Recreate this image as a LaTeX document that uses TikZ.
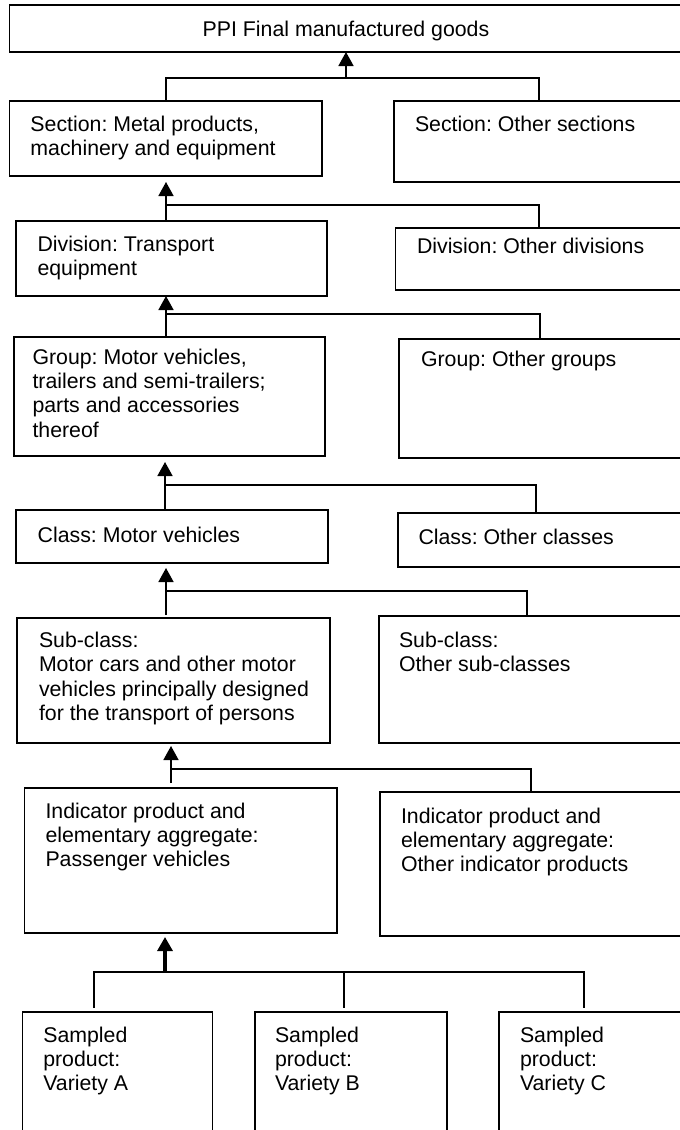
\documentclass[tikz,border=0pt]{standalone}
\usepackage{fontspec}
\setmainfont{Liberation Sans}
\usetikzlibrary{arrows.meta,fit}
\frenchspacing
\newcommand{\mylines}[1]{\begin{tabular}[t]{@{}l@{}}#1\end{tabular}}
\begin{document}
\begin{tikzpicture}[x=1pt,y=-1pt,
  box/.style={draw, line width=1.8pt, inner sep=0pt, outer sep=0pt},
  txt/.style={inner sep=0pt, outer sep=0pt, anchor=base west, font=\fontsize{21.3}{24.4}\selectfont\frenchspacing},
  link/.style={line width=1.6pt},
  uparrow/.style={line width=1.6pt, -{Triangle[width=15pt,length=14pt]}},
]
\useasboundingbox (0,0) rectangle (680,1130);

% boxes
\node[box, fit={(9.5,5) (684,52)}] (top) {};
\node[box, fit={(9.5,101) (322,176)}] (secL) {};
\node[box, fit={(394,101) (684,182)}] (secR) {};
\node[box, fit={(16,221) (327,296)}] (divL) {};
\node[box, fit={(395.5,228) (684,290)}] (divR) {};
\node[box, fit={(14,337) (325,456)}] (grpL) {};
\node[box, fit={(399,339) (684,458)}] (grpR) {};
\node[box, fit={(16,510) (328,563)}] (clsL) {};
\node[box, fit={(398,513) (684,567)}] (clsR) {};
\node[box, fit={(17,618) (330,743)}] (subL) {};
\node[box, fit={(379,616) (684,743)}] (subR) {};
\node[box, fit={(24.5,788) (337,933)}] (indL) {};
\node[box, fit={(380,792) (684,936)}] (indR) {};
\node[box, fit={(22.5,1012) (212.5,1134)}] (smpA) {};
\node[box, fit={(255,1012) (447,1134)}] (smpB) {};
\node[box, fit={(499,1012) (684,1134)}] (smpC) {};

% texts
\node[txt, anchor=base] (topT) at (346,36.5) {PPI Final manufactured goods};
\node[txt] (secLT) at (30.5,131.5) {\mylines{Section: Metal products,\\machinery and equipment}};
\node[txt] (secRT) at (415,131.5) {\mylines{Section: Other sections}};
\node[txt] (divLT) at (37.5,251) {\mylines{Division: Transport\\equipment}};
\node[txt] (divRT) at (417,253) {\mylines{Division: Other divisions}};
\node[txt] (grpLT) at (32.5,364) {\mylines{Group: Motor vehicles,\\trailers and semi-trailers;\\parts and accessories\\thereof}};
\node[txt] (grpRT) at (421,366) {\mylines{Group: Other groups}};
\node[txt] (clsLT) at (37.7,542) {\mylines{Class: Motor vehicles}};
\node[txt] (clsRT) at (418.5,544) {\mylines{Class: Other classes}};
\node[txt] (subLT) at (39,647.5) {\mylines{Sub-class:\\Motor cars and other motor\\vehicles principally designed\\for the transport of persons}};
\node[txt] (subRT) at (399,647) {\mylines{Sub-class:\\Other sub-classes}};
\node[txt] (indLT) at (45.5,818) {\mylines{Indicator product and\\elementary aggregate:\\Passenger vehicles}};
\node[txt] (indRT) at (401,823) {\mylines{Indicator product and\\elementary aggregate:\\Other indicator products}};
\node[txt] (smpAT) at (43.3,1042) {\mylines{Sampled\\product:\\Variety A}};
\node[txt] (smpBT) at (275,1042) {\mylines{Sampled\\product:\\Variety B}};
\node[txt] (smpCT) at (520,1042) {\mylines{Sampled\\product:\\Variety C}};

% level 1
\coordinate (j1) at (346,78);
\coordinate (j1l) at (166,78);
\coordinate (j1r) at (539,78);
\draw[link] (j1l |- secL.north) -- (j1l) -- (j1r) -- (j1r |- secR.north);
\draw[uparrow] (j1) -- (j1 |- top.south);

% level 2
\coordinate (j2) at (166,205);
\coordinate (j2r) at (539,205);
\draw[link] (j2 |- divL.north) -- (j2) -- (j2r) -- (j2r |- divR.north);
\draw[uparrow, shorten >=6pt] (j2) -- (j2 |- secL.south);

% level 3
\coordinate (j3) at (166,314);
\coordinate (j3r) at (540,314);
\draw[link] (j3 |- grpL.north) -- (j3) -- (j3r) -- (j3r |- grpR.north);
\draw[uparrow] (j3) -- (j3 |- divL.south);

% level 4
\coordinate (j4) at (165,485);
\coordinate (j4r) at (536,485);
\draw[link] (j4 |- clsL.north) -- (j4) -- (j4r) -- (j4r |- clsR.north);
\draw[uparrow, shorten >=6pt] (j4) -- (j4 |- grpL.south);

% level 5
\coordinate (j5) at (166,591);
\coordinate (j5r) at (527,591);
\draw[link, shorten <=3pt] (j5 |- subL.north) -- (j5) -- (j5r) -- (j5r |- subR.north);
\draw[uparrow, shorten >=5pt] (j5) -- (j5 |- clsL.south);

% level 6
\coordinate (j6) at (171,769);
\coordinate (j6r) at (531,769);
\draw[link, shorten <=5pt] (j6 |- indL.north) -- (j6) -- (j6r) -- (j6r |- indR.north);
\draw[uparrow, shorten >=3pt] (j6) -- (j6 |- subL.south);

% level 7
\coordinate (j7) at (165,972);
\coordinate (j7a) at (94,972);
\coordinate (j7b) at (344,972);
\coordinate (j7c) at (584,972);
\draw[link, shorten <=4pt, shorten >=4pt] (j7a |- smpA.north) -- (j7a) -- (j7c) -- (j7c |- smpC.north);
\draw[link, shorten >=4pt] (j7b) -- (j7b |- smpB.north);
\draw[uparrow, line width=3.2pt, shorten >=4pt] (j7) -- (j7 |- indL.south);
\end{tikzpicture}
\end{document}
